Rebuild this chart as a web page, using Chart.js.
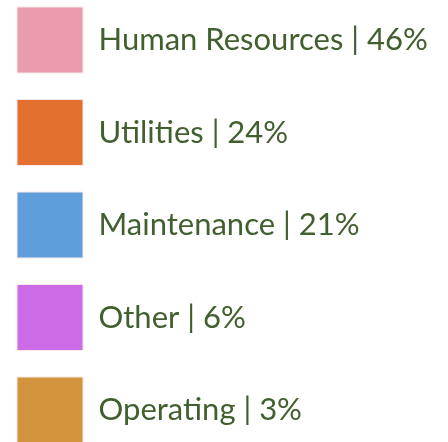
<!DOCTYPE html>
<html>
<head>
<meta charset="utf-8">
<script src="https://cdn.jsdelivr.net/npm/chart.js@4"></script>
<style>
  html, body { margin: 0; padding: 0; background: #fff; overflow: hidden; }
  #wrap { width: 448px; height: 530px; }
</style>
</head>
<body>
<div id="wrap"><canvas id="mainChart"></canvas></div>
<script>
const main = document.getElementById("mainChart");

let categories = ["Human Resources", "Utilities", "Maintenance", "Other", "Operating"];
let shares = [46, 24, 21, 6, 3];
let sliceColors = ["#e99cad", "#e3702f", "#5e9edb", "#cb6ce6", "#d3943e"];

let labels = categories.map((c, i) => c + " | " + shares[i] + "%");

// legend only: the doughnut itself gets radius 0, the legend fills the page
new Chart(main, {
    type: "doughnut",
    data: {
        labels: labels,
        datasets: [{
            data: shares,
            backgroundColor: sliceColors,
            borderColor: "#fbe9ea",
            borderWidth: 1
        }]
    },
    options: {
        responsive: true,
        maintainAspectRatio: false,
        animation: false,
        events: [],
        radius: 0,
        layout: { padding: { left: -9.5, top: -19.5, right: 0, bottom: 0 } },
        plugins: {
            tooltip: { enabled: false },
            legend: {
                position: "left",
                align: "start",
                maxWidth: 460,
                labels: {
                    boxWidth: 66,
                    boxHeight: 66,
                    padding: 26.5,
                    color: "#425f2f",
                    font: { family: "Lato", size: 31 }
                }
            }
        }
    }
});
</script>
</body>
</html>
